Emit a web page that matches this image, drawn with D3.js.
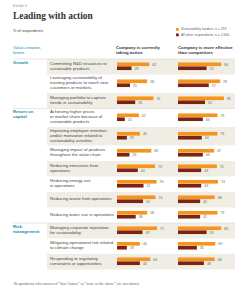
<!DOCTYPE html>
<html>
<head>
<meta charset="utf-8">
<script src="https://cdn.jsdelivr.net/npm/d3@7"></script>
<style>
  body { margin: 0; background: #fff; }
  svg { display: block; }
</style>
</head>
<body>
<svg id="chart"></svg>
<script>
// data
const levers = ["Growth", "Return on capital", "Risk management"];
const leverLines = [["Growth"], ["Return on", "capital"], ["Risk", "management"]];
const actionLines = [
  ["Committing R&D resources to", "sustainable products"],
  ["Leveraging sustainability of", "existing products to reach new", "customers or markets"],
  ["Managing portfolio to capture", "trends in sustainability"],
  ["Achieving higher prices", "or market share because of", "sustainable products"],
  ["Improving employee retention", "and/or motivation related to", "sustainability activities"],
  ["Managing impact of products", "throughout the value chain"],
  ["Reducing emissions from", "operations"],
  ["Reducing energy use", "in operations"],
  ["Reducing waste from operations"],
  ["Reducing water use in operations"],
  ["Managing corporate reputation", "for sustainability"],
  ["Mitigating operational risk related", "to climate change"],
  ["Responding to regulatory", "constraints or opportunities"]
];
const leverOf = [0, 0, 0, 1, 1, 1, 1, 1, 1, 1, 2, 2, 2];
const takingLeaders    = [62, 58, 70, 42, 44, 66, 73, 76, 74, 58, 77, 44, 64];
const takingOthers     = [28, 25, 35, 15, 19, 24, 40, 51, 50, 36, 49, 19, 44];
const effectiveLeaders = [80, 78, 85, 73, 73, 67, 72, 74, 68, 73, 80, 69, 68];
const effectiveOthers  = [53, 57, 50, 46, 44, 46, 43, 43, 41, 41, 53, 35, 48];
const seriesNames = ["Sustainability leaders, n = 293", "All other respondents, n = 2,660"];
const leverTitle = ["Value-creation", "levers"];
const columnTitles = [["Company is currently", "taking action"], ["Company is more effective", "than competitors"]];

const colors = {leaders: "#f7941d", others: "#7a2412", band: "#efede4", teal: "#2389ad", text: "#444"};
const sans = "'Liberation Sans', Arial, sans-serif";
const serif = "'Liberation Serif', Georgia, serif";

const W = 250, H = 300;
const svg = d3.select("#chart").attr("width", W).attr("height", H);

// header
svg.append("text").attr("x", 13).attr("y", 7).attr("font-family", sans).attr("font-size", 3.6)
  .attr("fill", "#999").text("Exhibit 4");
svg.append("text").attr("x", 13).attr("y", 19).attr("font-family", serif).attr("font-weight", "bold")
  .attr("font-size", 9.4).attr("fill", "#333").text("Leading with action");
svg.append("text").attr("x", 13).attr("y", 32).attr("font-family", sans).attr("font-size", 3.8)
  .attr("fill", colors.text).text("% of respondents¹");

// legend
const legend = svg.append("g").attr("transform", "translate(176,28)");
[colors.leaders, colors.others].forEach((c, i) => {
  const g = legend.append("g").attr("transform", `translate(0,${i * 5.5})`);
  g.append("rect").attr("width", 2.8).attr("height", 2.8).attr("fill", c);
  g.append("text").attr("x", 5).attr("y", 2.4).attr("font-family", sans).attr("font-size", 3.4)
    .attr("fill", "#666").text(seriesNames[i]);
});

// column titles
const headY = 49;
svg.append("text").attr("font-family", sans).attr("font-size", 4.3).attr("fill", colors.teal)
  .selectAll("tspan").data(leverTitle).join("tspan")
  .attr("x", 13).attr("y", (d, i) => headY + i * 5).text(d => d);
columnTitles.forEach((t, j) => {
  svg.append("text").attr("font-family", sans).attr("font-size", 4.3).attr("font-weight", "bold")
    .attr("fill", "#333")
    .selectAll("tspan").data(t).join("tspan").attr("x", j === 0 ? 116 : 178)
    .attr("y", (d, i) => headY + i * 5).text(d => d);
});

// row layout
const top0 = 59;
const rowH = actionLines.map(l => l.length === 3 ? 18.5 : 15.5);
const rowTop = rowH.map((h, i) => top0 + d3.sum(rowH.slice(0, i)));
const rows = actionLines.map((lines, i) => ({
  i, lines, lever: leverOf[i], top: rowTop[i], h: rowH[i],
  vals: [[takingLeaders[i], takingOthers[i]], [effectiveLeaders[i], effectiveOthers[i]]]
}));

const xCols = [
  d3.scaleLinear().domain([0, 100]).range([117, 169]),
  d3.scaleLinear().domain([0, 100]).range([178, 232])
];
const sub = d3.scaleBand().domain([0, 1]).range([0, 7.6]).paddingInner(0.08);

// bands
svg.append("g").selectAll("rect").data(rows.filter(r => r.i % 2 === 0)).join("rect")
  .attr("x", 47).attr("y", d => d.top).attr("width", 188).attr("height", d => d.h)
  .attr("fill", colors.band);

// separator lines at the top of each section
const sectionTops = levers.map((l, k) => rows.find(r => r.lever === k).top);
const last = rows[rows.length - 1];
svg.append("g").selectAll("line").data(sectionTops).join("line")
  .attr("x1", 13).attr("x2", 235).attr("y1", d => d).attr("y2", d => d)
  .attr("stroke", "#d8d6cf").attr("stroke-width", 0.6);

// section labels
svg.append("g").selectAll("text").data(leverLines).join("text")
  .attr("font-family", sans).attr("font-size", 4.3).attr("font-weight", "bold").attr("fill", colors.teal)
  .selectAll("tspan").data((d, k) => d.map(s => ({s, k}))).join("tspan")
  .attr("x", 13).attr("y", (d, i) => sectionTops[d.k] + 4.8 + i * 5).text(d => d.s);

// row labels
const rowG = svg.append("g").selectAll("g").data(rows).join("g")
  .attr("transform", d => `translate(0,${d.top})`);
rowG.append("text").attr("font-family", sans).attr("font-size", 4.3).attr("fill", colors.text)
  .selectAll("tspan").data(d => d.lines.map((s, k) => ({s, k, n: d.lines.length, h: d.h}))).join("tspan")
  .attr("x", 50).attr("y", d => d.h / 2 - (d.n - 1) * 2.5 + d.k * 5 + 0.6).text(d => d.s);

// bars
xCols.forEach((x, j) => {
  const g = rowG.append("g").attr("transform", d => `translate(0,${d.h / 2 - 4.3})`);
  g.selectAll("rect").data(d => d.vals[j]).join("rect")
    .attr("x", x(0)).attr("y", (v, s) => sub(s))
    .attr("width", v => x(v) - x(0)).attr("height", sub.bandwidth())
    .attr("fill", (v, s) => s === 0 ? colors.leaders : colors.others);
  g.selectAll("text").data(d => d.vals[j]).join("text")
    .attr("x", v => x(v) + 3).attr("y", (v, s) => sub(s) + sub.bandwidth() - 0.3)
    .attr("font-family", sans).attr("font-size", 3.5).attr("fill", "#666").text(v => v);
});

// footnote
svg.append("text").attr("x", 13).attr("y", last.top + last.h + 15.5).attr("font-family", serif)
  .attr("font-size", 3.9).attr("fill", "#666")
  .text("¹Respondents who answered “don’t know” or “none of the above” are not shown.");
</script>
</body>
</html>
